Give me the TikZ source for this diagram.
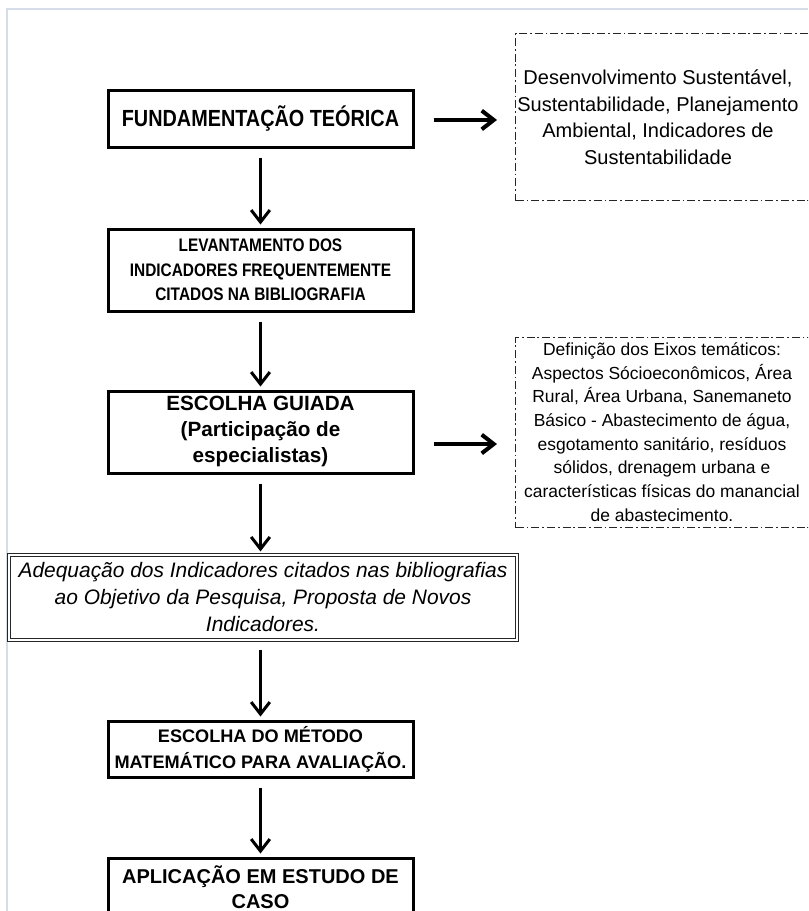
\documentclass[tikz,border=0pt]{standalone}
\usepackage{fontspec}
\setmainfont{Liberation Sans}
\newfontfamily\narrowsans[FakeStretch=0.85]{Liberation Sans}
\usetikzlibrary{arrows.meta}
\definecolor{pageframe}{HTML}{D6DDE8}

\begin{document}
\begin{tikzpicture}[
  x=0.75pt,
  y=-0.75pt,
  stepbox/.style={draw=black, line width=2.25pt, align=center, inner sep=0pt,
    minimum width=228.75pt},
  notebox/.style={draw=black!85, line width=1.1pt,
    dash pattern=on 6pt off 2.2pt on 1.3pt off 2.2pt},
  notetext/.style={align=center, inner sep=0pt},
  flow arrow/.style={-{Straight Barb[length=9pt,width=14pt]}, line width=2.25pt,
    shorten <=6.75pt, shorten >=2.25pt},
  side arrow/.style={-{Straight Barb[length=9pt,width=14pt]}, line width=3pt,
    shorten <=14.25pt, shorten >=13.5pt}
]
  \useasboundingbox (0,0) rectangle (808,911);
  \clip (0,0) rectangle (808,911);

  % page frame of the screenshot
  \draw[pageframe, line width=1.2pt] (7,911) -- (7,9) -- (808,9);

  % main column of steps
  \node[stepbox, minimum height=42.75pt,
    font={\narrowsans\bfseries\fontsize{17.5}{20}\selectfont}]
    (fund) at (260.5,118.5) {FUNDAMENTAÇÃO TEÓRICA};
  \node[stepbox, minimum height=61.5pt,
    font={\narrowsans\bfseries\fontsize{13.6}{18.4}\selectfont}]
    (lev) at (260.5,270) {LEVANTAMENTO DOS\\INDICADORES FREQUENTEMENTE\\CITADOS NA BIBLIOGRAFIA};
  \node[stepbox, minimum height=61.5pt,
    font={\bfseries\fontsize{15.5}{19.6}\selectfont}]
    (guiada) at (260.5,432) {\raisebox{0pt}[10pt][3pt]{ESCOLHA GUIADA}\\(Participação de\\especialistas)};
  \node[draw=black!85, double, double distance=1.5pt, line width=0.9pt,
    align=center, inner sep=0pt, minimum width=381pt, minimum height=63.75pt,
    font={\itshape\fontsize{15.7}{20.25}\selectfont}]
    (adeq) at (263,597.5) {Adequação dos Indicadores citados nas bibliografias\\ao Objetivo da Pesquisa, Proposta de Novos\\Indicadores.};
  \node[stepbox, minimum height=42pt,
    font={\bfseries\fontsize{13.6}{19.5}\selectfont}]
    (metodo) at (260.5,749) {ESCOLHA DO MÉTODO\\MATEMÁTICO PARA AVALIAÇÃO.};
  \node[stepbox, minimum height=43.5pt,
    font={\bfseries\fontsize{15}{18.75}\selectfont}]
    (caso) at (260.5,887) {APLICAÇÃO EM ESTUDO DE\\CASO};

  % notes on the right, cut by the page edge
  \node[notebox, anchor=north west, minimum width=240pt, minimum height=125.25pt]
    (temaframe) at (515,33) {};
  \node[notetext, font={\fontsize{15}{19.9}\selectfont}]
    (tema) at (658,117) {Desenvolvimento Sustentável,\\Sustentabilidade, Planejamento\\Ambiental, Indicadores de\\Sustentabilidade};
  \node[notebox, anchor=north west, minimum width=240pt, minimum height=142.5pt]
    (eixosframe) at (515,337) {};
  \node[notetext, font={\fontsize{13.1}{17.8}\selectfont}]
    (eixos) at (662,432) {Definição dos Eixos temáticos:\\Aspectos Sócioeconômicos, Área\\Rural, Área Urbana, Sanemaneto\\Básico - Abastecimento de água,\\esgotamento sanitário, resíduos\\sólidos, drenagem urbana e\\características físicas do manancial\\de abastecimento.};

  % arrows down the column
  \draw[flow arrow] (fund) -- (lev);
  \draw[flow arrow] (lev) -- (guiada);
  \draw[flow arrow] (guiada.south) -- (guiada.south |- adeq.north);
  \draw[flow arrow] (adeq.south -| metodo.north) -- (metodo.north);
  \draw[flow arrow] (metodo) -- (caso);

  % arrows to the notes
  \coordinate (fund arrow) at ([yshift=-1.1pt]fund.east);
  \coordinate (guiada arrow) at ([yshift=-9pt]guiada.east);
  \draw[side arrow] (fund arrow) -- (fund arrow -| temaframe.west);
  \draw[side arrow] (guiada arrow) -- (guiada arrow -| eixosframe.west);
\end{tikzpicture}
\end{document}
